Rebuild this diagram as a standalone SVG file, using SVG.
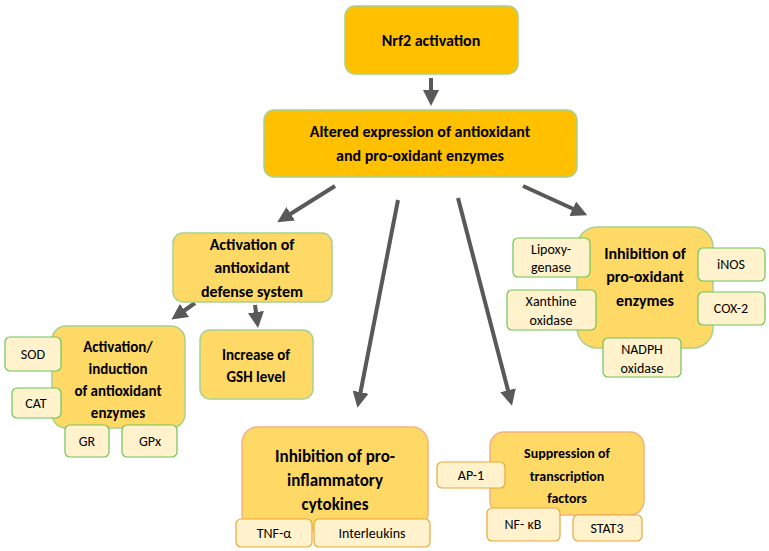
<svg xmlns="http://www.w3.org/2000/svg" width="769" height="551" viewBox="0 0 769 551">
<style>
.m{fill:#ffc000;stroke:#a9d18e;stroke-width:1.5}
.y{fill:#ffd966;stroke:#a9d18e;stroke-width:1.5}
.yo{fill:#ffd966;stroke:#f4b183;stroke-width:1.5}
.s{fill:#fff2cc;stroke:#70c45a;stroke-width:1.2}
.so{fill:#fff2cc;stroke:#e8a838;stroke-width:1.2}
text{font-family:Calibri,Carlito,"Liberation Sans",sans-serif;text-anchor:middle;fill:#000}
.b{font-weight:bold;font-size:16px}
.t{font-size:14px}
.c{stroke:#595959;stroke-width:4;fill:none;marker-end:url(#a)}
</style>
<defs><marker id="a" markerWidth="4" markerHeight="4" refX="2" refY="2" orient="auto" markerUnits="strokeWidth"><path d="M0,0L4,2L0,4Z" fill="#595959"/></marker></defs>
<g id="connectors">
<path class="c" d="M431,78V98"/>
<path class="c" d="M335,186L284,218"/>
<path class="c" d="M523,186L580,212"/>
<path class="c" d="M398,200L359,400"/>
<path class="c" d="M458,198L510,398"/>
<path class="c" d="M195,303L178,315"/>
<path class="c" d="M255,305L257,320"/>
</g>
<g id="nrf2"><rect class="m" x="345" y="6" width="173" height="68" rx="10"/><text class="b" x="431" y="46">Nrf2 activation</text></g>
<g id="altered"><rect class="m" x="264" y="110" width="313" height="67" rx="10"/><text class="b" x="420" y="137">Altered expression of antioxidant</text><text class="b" x="420" y="161">and pro-oxidant enzymes</text></g>
<g id="defense"><rect class="y" x="173" y="233" width="159" height="69" rx="10"/><text class="b" x="252" y="250">Activation of</text><text class="b" x="252" y="273">antioxidant</text><text class="b" x="252" y="297">defense system</text></g>
<g id="induction"><rect class="y" x="52" y="326" width="133" height="102" rx="14"/><text class="b" x="118" y="352" style="font-size:15px">Activation/</text><text class="b" x="118" y="374" style="font-size:15px">induction</text><text class="b" x="118" y="396" style="font-size:15px">of antioxidant</text><text class="b" x="118" y="418" style="font-size:15px">enzymes</text></g>
<g id="sod"><rect class="s" x="5" y="337" width="56" height="34" rx="5"/><text class="t" x="33" y="359">SOD</text></g>
<g id="cat"><rect class="s" x="12" y="388" width="49" height="30" rx="5"/><text class="t" x="36" y="408">CAT</text></g>
<g id="gr"><rect class="s" x="65" y="425" width="44" height="32" rx="5"/><text class="t" x="87" y="446">GR</text></g>
<g id="gpx"><rect class="s" x="122" y="425" width="55" height="32" rx="5"/><text class="t" x="150" y="446">GPx</text></g>
<g id="gsh"><rect class="y" x="200" y="330" width="113" height="69" rx="10"/><text class="b" x="256" y="360" style="font-size:15px">Increase of</text><text class="b" x="256" y="382" style="font-size:15px">GSH level</text></g>
<g id="prooxidant"><rect class="y" x="577" y="227" width="136" height="121" rx="20"/><text class="b" x="645" y="259">Inhibition of</text><text class="b" x="645" y="282">pro-oxidant</text><text class="b" x="645" y="306">enzymes</text></g>
<g id="lipoxy"><rect class="s" x="513" y="238" width="77" height="39" rx="5"/><text class="t" x="551" y="254">Lipoxy-</text><text class="t" x="551" y="272">genase</text></g>
<g id="inos"><rect class="s" x="698" y="248" width="67" height="33" rx="5"/><text class="t" x="731" y="269">iNOS</text></g>
<g id="xanthine"><rect class="s" x="507" y="290" width="89" height="40" rx="5"/><text class="t" x="551" y="306">Xanthine</text><text class="t" x="551" y="325">oxidase</text></g>
<g id="cox2"><rect class="s" x="698" y="292" width="67" height="33" rx="5"/><text class="t" x="731" y="313">COX-2</text></g>
<g id="nadph"><rect class="s" x="603" y="338" width="78" height="39" rx="5"/><text class="t" x="642" y="354">NADPH</text><text class="t" x="642" y="373">oxidase</text></g>
<g id="inflammatory"><rect class="yo" x="242" y="427" width="186" height="103" rx="16"/><text class="b" x="335" y="462" style="font-size:17px">Inhibition of pro-</text><text class="b" x="335" y="486" style="font-size:17px">inflammatory</text><text class="b" x="335" y="510" style="font-size:17px">cytokines</text></g>
<g id="tnf"><rect class="so" x="236" y="519" width="76" height="28" rx="5"/><text class="t" x="274" y="538">TNF-α</text></g>
<g id="il"><rect class="so" x="314" y="519" width="116" height="28" rx="5"/><text class="t" x="372" y="538">Interleukins</text></g>
<g id="transcription"><rect class="yo" x="490" y="432" width="154" height="83" rx="14"/><text class="b" x="567" y="458" style="font-size:14px">Suppression  of</text><text class="b" x="567" y="481" style="font-size:14px">transcription</text><text class="b" x="567" y="503" style="font-size:14px">factors</text></g>
<g id="ap1"><rect class="so" x="437" y="462" width="68" height="26" rx="5"/><text class="t" x="471" y="480">AP-1</text></g>
<g id="nfkb"><rect class="so" x="487" y="508" width="73" height="33" rx="5"/><text class="t" x="523" y="529">NF- κB</text></g>
<g id="stat3"><rect class="so" x="573" y="515" width="69" height="26" rx="5"/><text class="t" x="607" y="533">STAT3</text></g>
</svg>
